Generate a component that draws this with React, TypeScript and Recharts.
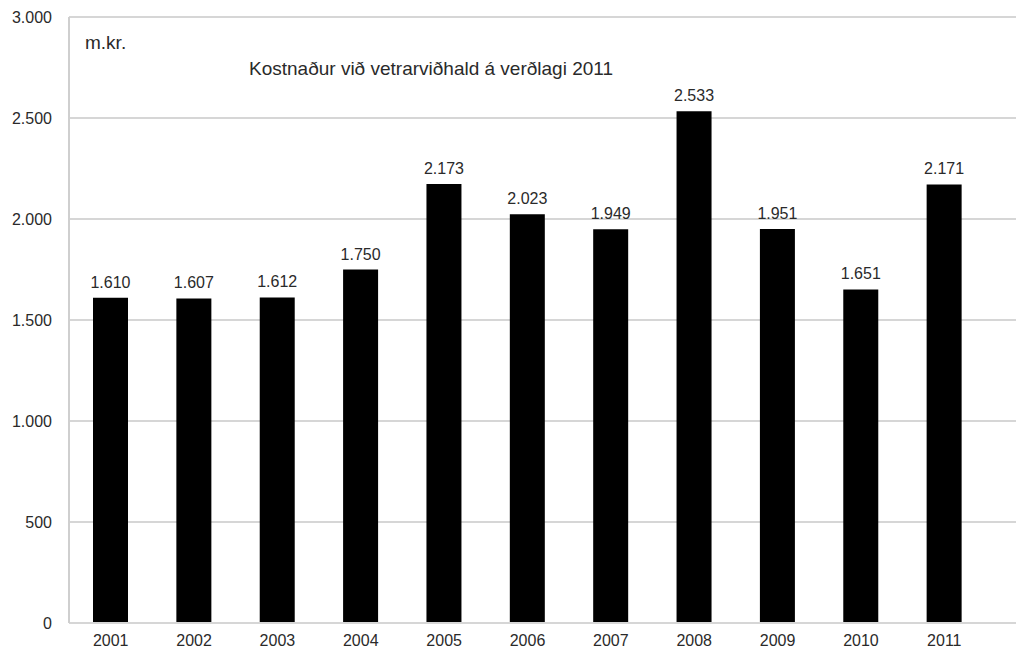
import React from 'react';
import {
  BarChart,
  Bar,
  XAxis,
  YAxis,
  CartesianGrid,
  LabelList,
} from 'recharts';

const YEARS = ['2001', '2002', '2003', '2004', '2005', '2006', '2007', '2008', '2009', '2010', '2011'];
const COSTS = [1610, 1607, 1612, 1750, 2173, 2023, 1949, 2533, 1951, 1651, 2171];
const Y_TICKS = [0, 500, 1000, 1500, 2000, 2500, 3000];

const UNIT_LABEL = 'm.kr.';
const TITLE = 'Kostnaður við vetrarviðhald á verðlagi 2011';

// icelandic style: dot as thousands separator
const fmt = (v: number) => String(v).replace(/\B(?=(\d{3})+(?!\d))/g, '.');

const FONT = '"Liberation Sans", Arial, sans-serif';
const TEXT = '#2a2a2a';

export default function App() {
  const data = YEARS.map((year, i) => ({ year, cost: COSTS[i] }));

  return (
    <div
      style={{
        position: 'absolute',
        left: 0,
        top: 0,
        width: 1016,
        height: 654,
        overflow: 'hidden',
        background: '#fff',
        fontFamily: FONT,
      }}
    >
      <BarChart
        width={1046}
        height={654}
        data={data}
        margin={{ top: 17, right: 0, left: 0, bottom: 4 }}
      >
        <CartesianGrid vertical={false} stroke="#d6d6d6" strokeWidth={2} />
        <XAxis
          dataKey="year"
          padding={{ left: 0, right: 60 }}
          axisLine={{ stroke: '#d6d6d6', strokeWidth: 2 }}
          tickLine={false}
          tickSize={0}
          tickMargin={12}
          height={27}
          tick={{ fill: TEXT, fontSize: 16, fontFamily: FONT }}
        />
        <YAxis
          domain={[0, 3000]}
          ticks={Y_TICKS}
          interval={0}
          width={69}
          axisLine={{ stroke: '#cfcfcf', strokeWidth: 2 }}
          tickLine={false}
          tickSize={0}
          tickMargin={17}
          tickFormatter={fmt}
          tick={{ fill: TEXT, fontSize: 16, fontFamily: FONT }}
        />
        <Bar dataKey="cost" fill="#000" barSize={35} isAnimationActive={false}>
          <LabelList
            dataKey="cost"
            position="top"
            offset={10}
            formatter={(v: any) => fmt(Number(v))}
            style={{ fill: TEXT, fontSize: 16, fontFamily: FONT }}
          />
        </Bar>
      </BarChart>
      <div style={{ position: 'absolute', left: 85, top: 32, fontSize: 19, color: TEXT }}>
        {UNIT_LABEL}
      </div>
      <div style={{ position: 'absolute', left: 249, top: 58, fontSize: 19, color: TEXT }}>
        {TITLE}
      </div>
    </div>
  );
}
